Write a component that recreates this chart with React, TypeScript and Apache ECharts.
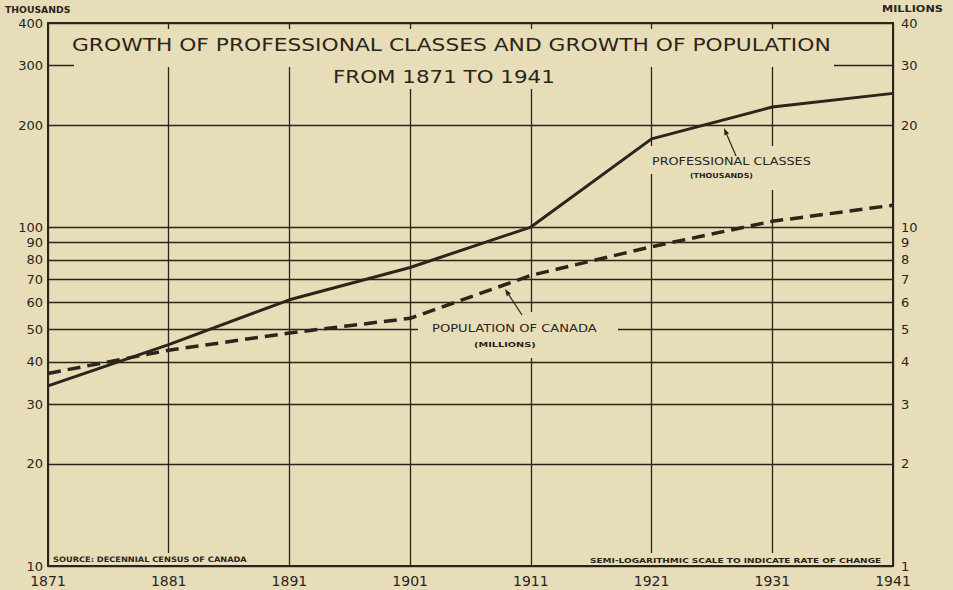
import React, { useEffect, useRef } from "react";
import * as echarts from "echarts";

const years = ["1871", "1881", "1891", "1901", "1911", "1921", "1931", "1941"];
const professionalThousands = [34, 45, 61, 76, 100, 182, 226, 248];
const populationMillions = [3.7, 4.33, 4.87, 5.38, 7.2, 8.75, 10.4, 11.6];
const leftTicks = [10, 20, 30, 40, 50, 60, 70, 80, 90, 100, 200, 300, 400];
const rightTicks = [1, 2, 3, 4, 5, 6, 7, 8, 9, 10, 20, 30, 40];

const titleLine1 = "GROWTH OF PROFESSIONAL CLASSES AND GROWTH OF POPULATION";
const titleLine2 = "FROM 1871 TO 1941";
const leftUnit = "THOUSANDS";
const rightUnit = "MILLIONS";
const profLabel = "PROFESSIONAL CLASSES";
const profUnit = "(THOUSANDS)";
const popLabel = "POPULATION OF CANADA";
const popUnit = "(MILLIONS)";
const sourceNote = "SOURCE: DECENNIAL CENSUS OF CANADA";
const scaleNote = "SEMI-LOGARITHMIC SCALE TO INDICATE RATE OF CHANGE";

const INK = "#2b251b";
const BG = "#e7ddb8";
const FONT = "DejaVu Sans";

function txt(text: string, x: number, y: number, size: number, scaleX: number, bold = false): any {
  return {
    type: "text",
    x,
    y,
    scaleX,
    z: 5,
    silent: true,
    style: {
      text,
      fill: INK,
      font: `${bold ? "bold " : ""}${size}px "${FONT}"`,
      textAlign: "left",
      textVerticalAlign: "middle",
    },
  };
}

function bgRect(x: number, y: number, w: number, h: number): any {
  return { type: "rect", z: 1, silent: true, shape: { x, y, width: w, height: h }, style: { fill: BG } };
}

function arrow(x1: number, y1: number, x2: number, y2: number): any[] {
  const dx = x2 - x1;
  const dy = y2 - y1;
  const len = Math.sqrt(dx * dx + dy * dy);
  const ux = dx / len;
  const uy = dy / len;
  const hl = 7;
  const hw = 2.5;
  const bx = x2 - ux * hl;
  const by = y2 - uy * hl;
  return [
    { type: "line", z: 5, silent: true, shape: { x1, y1, x2: bx, y2: by }, style: { stroke: INK, lineWidth: 1.2 } },
    {
      type: "polygon",
      z: 5,
      silent: true,
      shape: { points: [[x2, y2], [bx - uy * hw, by + ux * hw], [bx + uy * hw, by - ux * hw]] },
      style: { fill: INK },
    },
  ];
}

export default function App() {
  const ref = useRef<HTMLDivElement>(null);
  useEffect(() => {
    if (!ref.current) return;
    const chart = echarts.init(ref.current, null, { renderer: "svg" });
    const option: any = {
      animation: false,
      backgroundColor: BG,
      textStyle: { fontFamily: FONT },
      grid: {
        left: 48,
        right: 60,
        top: 23,
        bottom: 24,
        show: true,
        borderColor: INK,
        borderWidth: 2,
        backgroundColor: "transparent",
      },
      xAxis: {
        type: "category",
        data: years,
        boundaryGap: false,
        axisLine: { show: false },
        axisTick: { show: false },
        axisLabel: { interval: 0, margin: 8, fontSize: 14, color: INK, fontFamily: FONT },
        splitLine: { show: true, interval: 0, lineStyle: { color: INK, width: 1.3 } },
      },
      yAxis: [
        {
          type: "log",
          logBase: 10,
          min: 10,
          max: 400,
          position: "left",
          axisLine: { show: false },
          axisTick: { show: false, customValues: leftTicks },
          axisLabel: { customValues: leftTicks, margin: 5, fontSize: 13, color: INK, fontFamily: FONT },
          splitLine: { show: true, lineStyle: { color: INK, width: 1.3 } },
        },
        {
          type: "log",
          logBase: 10,
          min: 1,
          max: 40,
          position: "right",
          axisLine: { show: false },
          axisTick: { show: false, customValues: rightTicks },
          axisLabel: { customValues: rightTicks, margin: 8, fontSize: 13, color: INK, fontFamily: FONT },
          splitLine: { show: false },
        },
      ],
      series: [
        {
          name: "Professional classes (thousands)",
          type: "line",
          data: professionalThousands,
          yAxisIndex: 0,
          symbol: "none",
          z: 3,
          lineStyle: { color: INK, width: 3 },
        },
        {
          name: "Population of Canada (millions)",
          type: "line",
          data: populationMillions,
          yAxisIndex: 1,
          symbol: "none",
          z: 3,
          lineStyle: { color: INK, width: 3.5, type: [13, 7] },
        },
      ],
      graphic: [
        bgRect(74, 29, 760, 38),
        bgRect(330, 66, 232, 23),
        bgRect(418, 312, 200, 46),
        bgRect(645, 146, 170, 28),
        bgRect(686, 170, 94, 20),
        bgRect(50, 553, 200, 12),
        bgRect(585, 553, 303, 12),
        txt(leftUnit, 5, 10, 9, 1.03, true),
        txt(rightUnit, 882, 9, 9, 1.25, true),
        txt(titleLine1, 72, 45, 18, 1.21),
        txt(titleLine2, 333, 77, 17, 1.26),
        txt(profLabel, 652, 161, 11, 1.16),
        txt(profUnit, 690, 176, 7, 1.13, true),
        txt(popLabel, 432, 328, 11, 1.19),
        txt(popUnit, 474, 344, 7.5, 1.3, true),
        txt(sourceNote, 53, 560, 7.5, 1.1, true),
        txt(scaleNote, 590, 560, 7.5, 1.2, true),
        ...arrow(736, 156, 724, 128),
        ...arrow(522, 315, 505, 289),
      ],
    };
    chart.setOption(option);
    return () => chart.dispose();
  }, []);
  return (
    <div
      ref={ref}
      style={{ position: "fixed", left: 0, top: 0, width: 953, height: 590 }}
    />
  );
}
